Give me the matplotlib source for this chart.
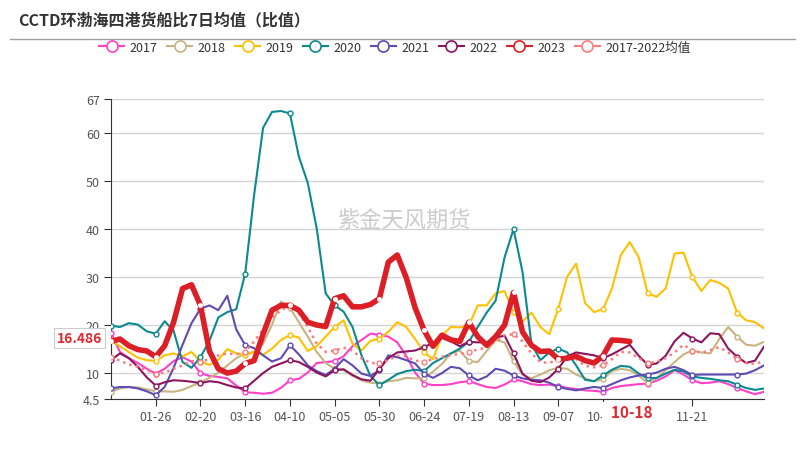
import matplotlib.pyplot as plt
from matplotlib.lines import Line2D
import numpy as np
import pandas as pd

plt.rcParams['font.family'] = ['Noto Sans CJK SC', 'DejaVu Sans']

# day of year (leap-year calendar), one value every 5 days
days = np.arange(0, 366, 5)

v2017 = [18.3, 14.3, 13.0, 12.0, 10.8, 9.8, 10.8, 12.4, 13.2, 12.3,
         9.9, 9.3, 9.1, 8.8, 7.3, 5.9, 5.8, 5.6, 5.8, 6.8,
         8.4, 8.7, 10.0, 12.0, 12.2, 12.4, 13.4, 15.5, 16.8, 18.1,
         17.9, 17.5, 16.3, 13.5, 10.0, 7.7, 7.4, 7.4, 7.6, 8.0,
         8.2, 7.6, 7.0, 6.8, 7.5, 8.6, 8.2, 7.6, 7.4, 7.5,
         7.2, 6.8, 6.6, 6.3, 6.2, 6.0, 6.8, 7.2, 7.4, 7.6,
         7.7, 8.3, 9.2, 10.5, 9.6, 8.4, 7.8, 7.9, 8.2, 7.6,
         6.8, 6.1, 5.5, 6.0]
v2018 = [6.0, 6.7, 7.0, 6.9, 6.5, 6.1, 6.1, 6.0, 6.4, 7.2,
         8.0, 8.9, 10.0, 11.5, 13.0, 14.0, 14.3, 16.0, 20.0, 24.8,
         23.5, 20.5, 17.5, 14.3, 12.0, 10.8, 10.5, 9.3, 8.4, 7.9,
         7.7, 8.2, 8.4, 8.9, 8.8, 8.8, 10.2, 11.8, 14.0, 14.6,
         12.4, 12.2, 14.5, 16.8, 16.3, 12.4, 9.5, 8.8, 9.6, 10.5,
         11.0, 10.8, 9.6, 8.8, 8.2, 8.6, 10.3, 10.8, 10.5, 9.4,
         7.8, 8.8, 10.5, 12.2, 13.8, 14.6, 14.2, 14.0, 17.0, 19.5,
         17.5, 15.8, 15.6, 16.4]
v2019 = [16.7, 15.5, 14.3, 13.1, 12.6, 12.4, 13.6, 14.0, 13.4, 14.3,
         12.3, 11.6, 12.7, 14.9, 14.0, 13.6, 14.3, 13.7, 15.0, 16.8,
         17.8, 17.3, 14.5, 15.5, 17.5, 19.5, 20.9, 16.0, 14.6, 16.6,
         17.1, 18.5, 20.5, 19.5, 17.0, 14.2, 12.8, 17.8, 19.5, 19.4,
         19.8, 24.0, 24.0, 26.5, 27.0, 22.6, 20.6, 22.5, 19.5, 18.0,
         23.3, 30.0, 32.7, 24.5, 22.6, 23.2, 27.5, 34.5, 37.2, 34.0,
         26.5, 25.8, 27.5, 34.8, 35.0, 29.9, 27.0, 29.3, 28.7, 27.5,
         22.5, 20.9, 20.5, 19.2]
v2020 = [19.8, 19.5, 20.3, 20.0, 18.6, 18.1, 20.7, 18.7, 12.2, 11.0,
         13.2, 16.6, 21.5, 22.6, 23.2, 30.6, 47.0, 61.0, 64.3, 64.5,
         64.0, 55.0, 49.5, 40.0, 26.5, 24.0, 22.7, 19.5, 13.6, 9.3,
         7.4, 8.5, 9.7, 10.3, 10.6, 10.3, 12.0, 13.0, 14.0, 15.0,
         16.4, 19.5, 22.5, 25.0, 34.0, 39.9, 31.0, 16.0, 12.6, 14.2,
         15.0, 14.2, 11.5, 8.5, 8.2, 9.4, 10.6, 11.4, 11.2, 9.8,
         8.8, 8.9, 9.8, 10.6, 10.2, 9.2, 8.9, 8.7, 8.4, 8.2,
         7.5, 6.8, 6.4, 6.7]
v2021 = [6.7, 7.0, 7.0, 6.7, 6.1, 5.3, 7.0, 11.0, 15.8, 20.3,
         23.3, 24.0, 23.0, 26.0, 19.0, 15.7, 15.1, 13.6, 12.3, 13.0,
         15.7, 13.8, 11.5, 10.3, 9.5, 10.8, 12.8, 11.5, 9.8, 9.3,
         10.5, 13.6, 13.2, 12.6, 11.9, 9.8, 8.9, 9.9, 11.2, 10.9,
         9.4, 8.4, 9.2, 10.8, 10.4, 9.4, 8.8, 8.5, 8.4, 7.9,
         7.0, 6.6, 6.3, 6.7, 7.0, 6.8, 7.6, 8.4, 9.0, 9.4,
         9.6, 10.0, 10.8, 11.2, 10.5, 9.5, 9.6, 9.6, 9.6, 9.6,
         9.6, 9.8, 10.5, 11.5]
v2022 = [12.6, 14.0, 13.0, 11.2, 9.0, 7.3, 8.0, 8.4, 8.3, 8.1,
         7.8, 8.2, 8.0, 7.4, 6.9, 6.7, 8.3, 9.9, 11.2, 11.9,
         12.6, 12.2, 11.2, 10.0, 9.2, 10.5, 10.7, 9.5, 8.6, 8.3,
         10.8, 13.0, 14.2, 14.4, 14.6, 15.3, 16.2, 17.2, 16.5, 15.5,
         16.4, 16.3, 16.3, 17.3, 17.7, 14.0, 9.8, 8.3, 8.0, 9.0,
         10.8, 13.4, 14.2, 13.9, 13.6, 13.0, 13.8, 14.8, 15.8, 13.5,
         11.6, 11.9, 13.5, 16.5, 18.3, 17.1, 16.3, 18.2, 18.0, 15.0,
         13.3, 12.0, 12.5, 15.4]
v2023 = [16.5, 17.0, 15.6, 14.8, 14.5, 13.3, 15.6, 20.5, 27.5, 28.3,
         24.0, 14.5, 10.8, 9.9, 10.3, 11.9, 12.5, 18.0, 23.0, 24.0,
         24.0, 23.0, 20.5, 19.9, 19.6, 25.4, 26.0, 23.7, 23.7, 24.2,
         25.4, 33.0, 34.5, 29.8, 23.5, 18.8, 15.5, 17.8, 16.8, 16.5,
         20.5, 17.5, 15.7, 17.5, 19.9, 26.7, 18.5, 15.7, 14.4, 14.5,
         12.8, 13.0, 13.4, 12.5, 12.0, 13.5, 16.8, 16.7, 16.486]
vmean = [13.3, 12.5, 11.7, 11.2, 10.5, 9.8, 10.0, 10.8, 11.5, 12.4,
         12.3, 12.8, 13.6, 14.0, 13.8, 14.3, 16.5, 19.0, 21.5, 23.0,
         24.0, 22.5, 19.5, 16.0, 14.3, 14.6, 15.2, 14.6, 13.0, 12.0,
         11.9, 12.6, 13.5, 13.4, 12.5, 12.2, 12.8, 13.3, 13.6, 13.9,
         14.3, 14.8, 15.2, 16.5, 17.8, 18.0, 16.5, 14.0, 12.2, 12.0,
         12.8, 13.3, 12.8, 11.4, 11.1, 11.5, 12.8, 14.3, 14.2, 13.0,
         11.9, 12.3, 13.0, 14.2, 15.8, 14.6, 14.1, 14.7, 15.3, 14.2,
         12.9, 12.0, 11.8, 12.4]

tick_labels = ['01-26', '02-20', '03-16', '04-10', '05-05', '05-30', '06-24',
               '07-19', '08-13', '09-07', '10-02', '10-27', '11-21']
yticks = [4.5, 10, 20, 30, 40, 50, 60, 67]
pointer_date = '10-18'

names = ['2017', '2018', '2019', '2020', '2021', '2022', '2023', '2017-2022均值']
colors = ['#ff3fc8', '#c9b380', '#ffc000', '#0b8a8f', '#5e4bb3', '#8c155f',
          '#dc1f26', '#ff7b7b']


def doy(md):
    return pd.Timestamp('2020-' + md).dayofyear - 1


fig = plt.figure(figsize=(8.06, 4.6), dpi=100)
ax = fig.add_axes([111 / 806, 60 / 460, 653 / 806, 300 / 460])

for vals, name, c in zip([v2017, v2018, v2019, v2020, v2021, v2022],
                         names[:6], colors[:6]):
    ax.plot(days[:len(vals)], vals, color=c, lw=1.5, marker='o', ms=3.5,
            mfc='white', mec=c, mew=1, markevery=5, zorder=3,
            solid_joinstyle='round')
ax.plot(days[:len(vmean)], vmean, color=colors[7], lw=1.8, ls=':',
        marker='o', ms=3.5, mfc='white', mec=colors[7], mew=1,
        markevery=5, zorder=4)
ax.plot(days[:len(v2023)], v2023, color=colors[6], lw=4, marker='o', ms=3,
        mfc='white', mec='white', mew=0.5, markevery=5, zorder=5,
        solid_joinstyle='round', solid_capstyle='round')

ax.set_xlim(0, 365)
ax.set_ylim(4.5, 67)
ax.set_yticks(yticks)
ax.set_yticklabels([('%g' % t) for t in yticks])
ax.set_xticks([doy(t) for t in tick_labels])
ax.set_xticklabels(tick_labels)
ax.grid(axis='y', color='#d4d4d4', lw=1)
ax.set_axisbelow(True)
for s in ['top', 'right']:
    ax.spines[s].set_visible(False)
for s in ['left', 'bottom']:
    ax.spines[s].set_color('#333333')
ax.tick_params(colors='#333333', labelcolor='#555555', labelsize=9,
               length=5, pad=3)
ax.get_xticklabels()[tick_labels.index('10-27')].set_visible(False)

ax.text(0.449, 0.597, '紫金天风期货', transform=ax.transAxes, ha='center',
        va='center', fontsize=16, color='#cccccc', zorder=1)

ax.annotate('%.3f' % v2023[-1], xy=(0, v2023[-1]),
            xycoords=('axes fraction', 'data'), xytext=(-6.5, 2.5),
            textcoords='offset points', ha='right', va='center',
            color='#e0282e', fontsize=10, fontweight='bold',
            bbox=dict(boxstyle='square,pad=0.2', fc='white', ec='#cccccc', lw=0.8),
            annotation_clip=False, zorder=10)
ax.annotate('  ' + pointer_date + '  ', xy=(doy(pointer_date), 0),
            xycoords=('data', 'axes fraction'), xytext=(0, -9.4),
            textcoords='offset points', ha='center', va='center',
            color='#e0282e', fontsize=11, fontweight='bold',
            bbox=dict(boxstyle='square,pad=0.15', fc='white', ec='none'),
            annotation_clip=False, zorder=10)

handles = [Line2D([], [], color=c, lw=1.5, marker='o', ms=8, mfc='white',
                  mec=c, mew=1.2) for c in colors]
fig.legend(handles, names, loc='center', bbox_to_anchor=(0.49, 1 - 48 / 460),
           ncol=8, frameon=False, fontsize=9, handlelength=2.0,
           handletextpad=0.45, columnspacing=0.75, labelcolor='#333333')

fig.text(18 / 806, 1 - 20 / 460, 'CCTD环渤海四港货船比7日均值（比值）',
         fontsize=11.5, fontweight='bold', color='#333333', va='center', ha='left')
fig.add_artist(Line2D([10 / 806, 795 / 806], [1 - 40 / 460] * 2,
                      transform=fig.transFigure, color='#a0a0a0', lw=1))

fig.savefig('out.png', dpi=100)
